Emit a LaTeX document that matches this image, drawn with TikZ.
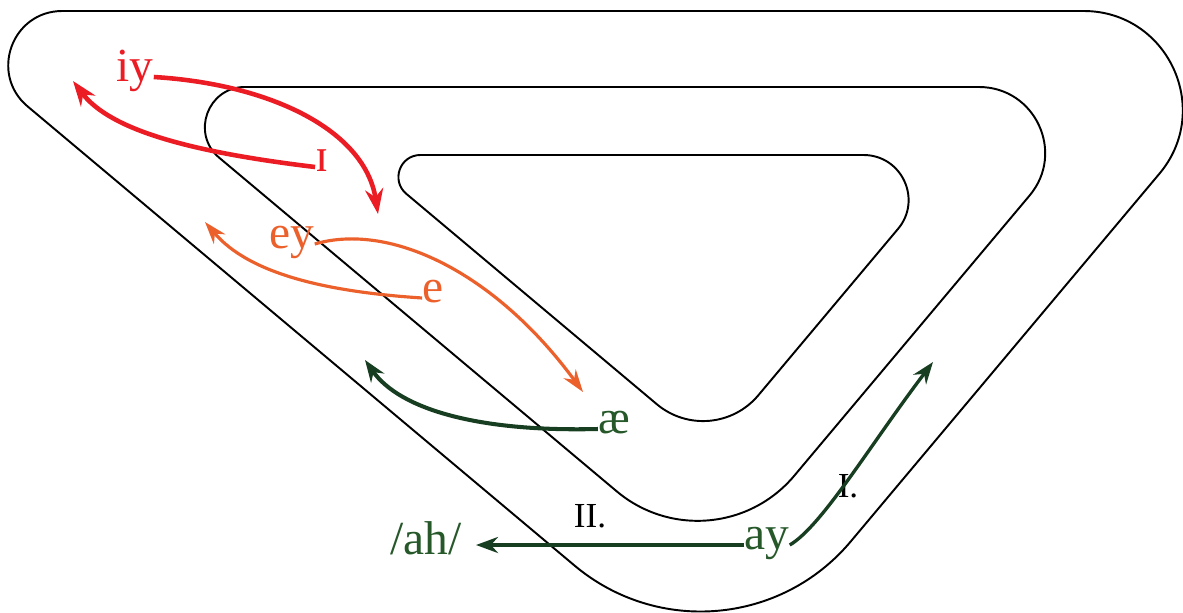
\documentclass[tikz,border=0pt]{standalone}
\usepackage{fontspec}
\setmainfont{Liberation Serif}
\usetikzlibrary{arrows.meta, positioning}
\definecolor{vowelred}{RGB}{236,28,36}
\definecolor{vowelorange}{RGB}{236,96,44}
\definecolor{vowelgreen}{RGB}{38,88,42}
\definecolor{shiftgreen}{RGB}{24,62,34}

\begin{document}
\begin{tikzpicture}[
    x=0.02cm, y=-0.02cm,
    track/.style={draw=black, line width=1.1pt},
    phon/.style={inner sep=0pt, text height=0.46em, text depth=0pt,
        font=\fontsize{27}{29}\selectfont},
    numlbl/.style={inner sep=0pt, font=\fontsize{20}{22}\selectfont},
    redarrow/.style={-{Stealth[length=0.5cm, width=0.36cm]}, line width=2.6pt, vowelred},
    orangearrow/.style={-{Stealth[length=0.45cm, width=0.3cm]}, line width=1.8pt, vowelorange},
    greenarrow/.style={-{Stealth[length=0.44cm, width=0.32cm]}, line width=2.3pt, shiftgreen}
]
\useasboundingbox (0,0) rectangle (1183,612);

% the three tracks
\draw[track] (62.3,11) -- (1083.6,11) .. controls (1167.7,11) and (1213.5,109.3) .. (1159.4,173.7)
    -- (850.7,541.5) .. controls (781.1,624.5) and (657.6,635.2) .. (574.6,565.6)
    -- (27.6,106.4) .. controls (-11.0,74.0) and (11.9,11) .. (62.3,11) -- cycle;
\draw[track] (244.9,87) -- (979.0,87) .. controls (1035.1,87) and (1065.7,152.5) .. (1029.6,195.5)
    -- (794.2,475.8) .. controls (749.4,529.1) and (670.0,536.1) .. (616.7,491.3)
    -- (219.2,157.7) .. controls (190.6,133.7) and (207.6,87) .. (244.9,87) -- cycle;
\draw[track] (420.4,155) -- (863.5,155) .. controls (901.7,155) and (922.6,199.6) .. (898.0,228.9)
    -- (758.3,395.3) .. controls (732.7,425.8) and (687.3,429.8) .. (656.8,404.2)
    -- (406.3,193.8) .. controls (390.6,180.6) and (399.9,155) .. (420.4,155) -- cycle;

% vowels
\node[phon, vowelred] (iy) at (135,77) {iy};
\node[phon, vowelred] (ih) at (322,167) {ɪ};
\node[phon, vowelorange] (ey) at (292,244) {ey};
\node[phon, vowelorange] (eh) at (433,298) {e};
\node[phon, vowelgreen] (ae) at (614,429) {æ};
\node[phon, vowelgreen] (ay) at (767,545) {ay};
\node[phon, vowelgreen] (ah) at (426,550) {/ah/};
\node[numlbl] (shiftone) at (848,486) {I.};
\node[numlbl] (shifttwo) at (590,516) {II.};

\coordinate (iytip) at (378,214);
\coordinate (ihtip) at (73,81);
\coordinate (eytip) at (583,392);
\coordinate (ehtip) at (205,222);
\coordinate (aetip) at (365,360);
\coordinate (aytip) at (933,362);
\coordinate (ahtip) at (476,545);

\draw[redarrow] (iy.east) .. controls (270,84) and (365,130) .. (iytip);
\draw[redarrow] (ih.west) .. controls (190,152) and (110,130) .. (ihtip);
\draw[orangearrow] (ey.east) .. controls (390,222) and (495,272) .. (eytip);
\draw[orangearrow] (eh.west) .. controls (330,292) and (250,275) .. (ehtip);
\draw[greenarrow] (ae.west) .. controls (480,432) and (400,410) .. (aetip);
\draw[greenarrow] (ay.west) -- (ahtip);
\draw[greenarrow, line width=1.9pt] (ay.east) .. controls (822,526) and (870,445) .. (aytip);
\end{tikzpicture}
\end{document}
